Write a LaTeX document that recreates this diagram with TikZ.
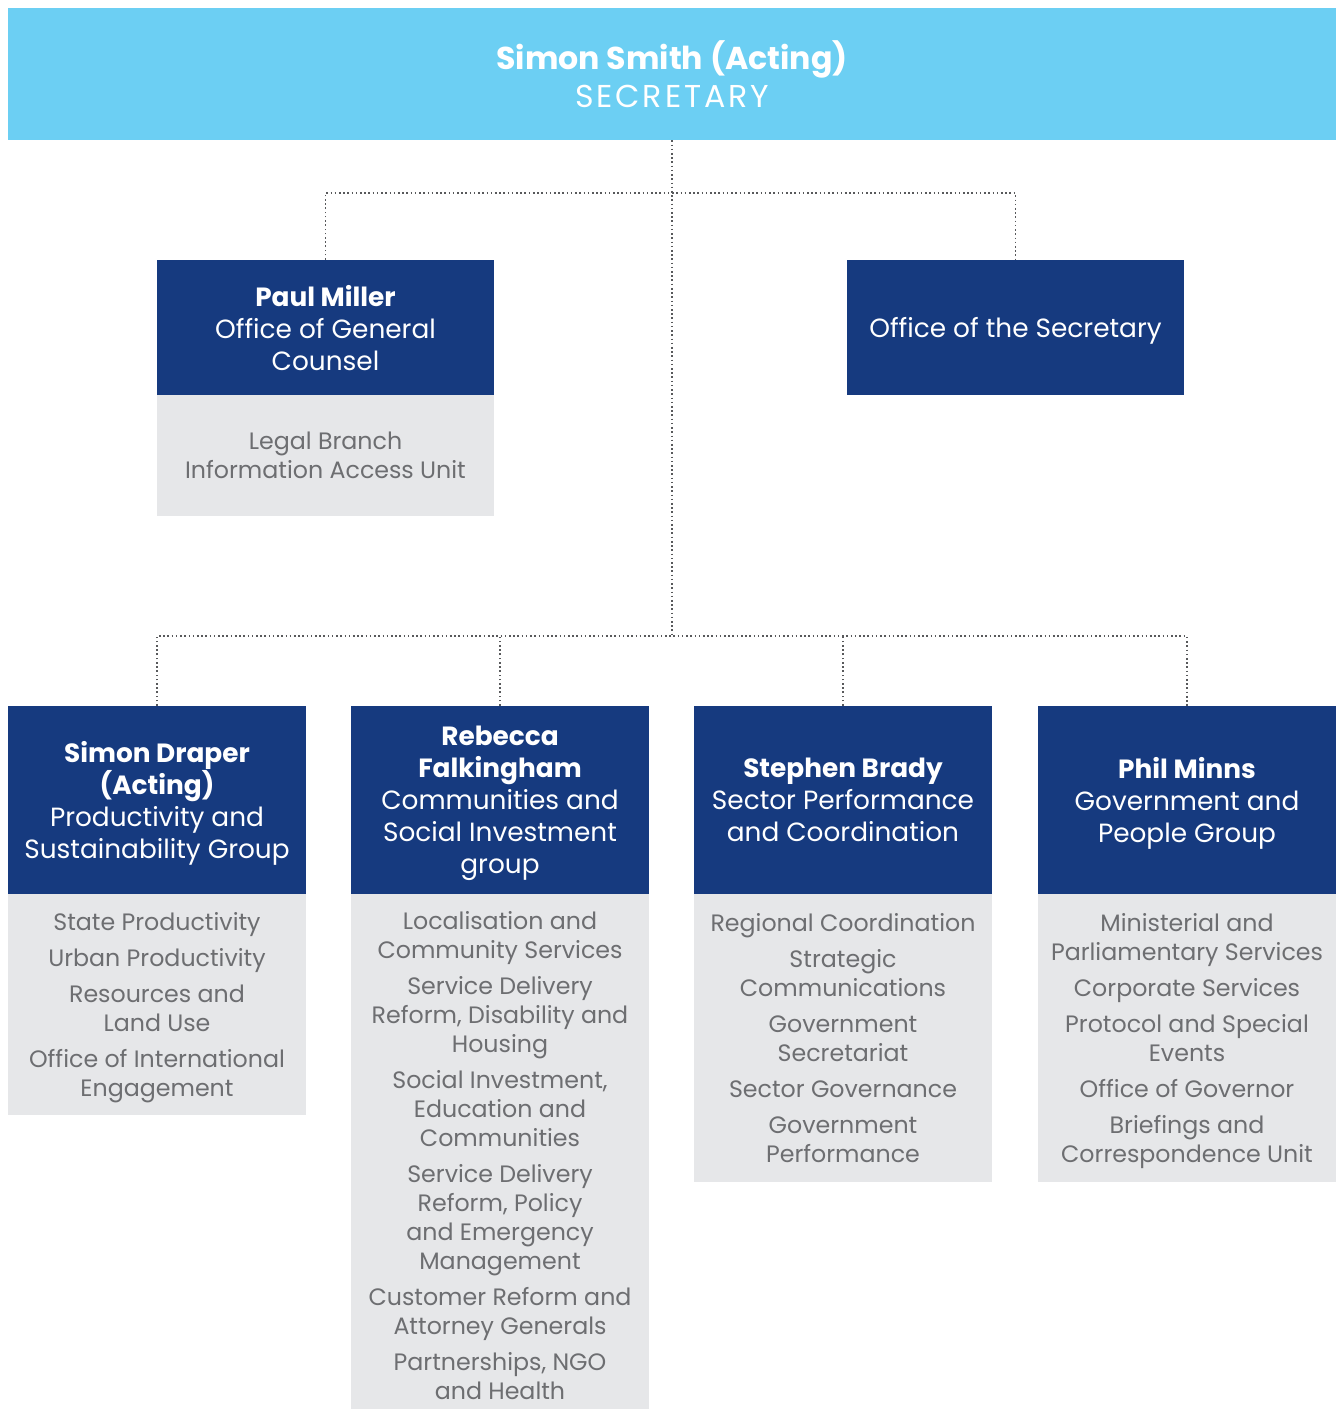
\documentclass[tikz,border=0pt]{standalone}
\usepackage{fontspec}
\setmainfont{Poppins}
\definecolor{skyblue}{HTML}{6CCFF3}
\definecolor{navy}{HTML}{163A7F}
\definecolor{panelgrey}{HTML}{E6E7E9}
\definecolor{unittext}{HTML}{6D6E71}
\definecolor{linkgrey}{HTML}{58595B}
\newcommand{\gap}{\\[4pt]}
\begin{document}
\begin{tikzpicture}[
        x=0.02cm, y=-0.02cm,
        banner/.style={rectangle, fill=skyblue, text=white, minimum width=26.56cm, minimum height=2.64cm, inner sep=0pt, align=center, font=\fontsize{18}{21.6}\selectfont},
        head/.style={rectangle, fill=navy, text=white, minimum width=5.96cm, minimum height=3.76cm, inner sep=0pt, text depth=0pt, align=center, font=\fontsize{15}{18.2}\selectfont},
        units/.style={rectangle, fill=panelgrey, text=unittext, minimum width=5.96cm, inner sep=0pt, text depth=0pt, align=center, font=\fontsize{13.5}{16.5}\selectfont},
        link/.style={linkgrey, line width=1pt, dash pattern=on 0.9pt off 1.5pt}
    ]
    \useasboundingbox (0,0) rectangle (1337,1409);

    % Secretary
    \node[banner] (sec) at (672,74) {\textbf{Simon Smith (Acting)}\\{\addfontfeature{LetterSpace=9}SECRETARY}};

    % Offices under the Secretary
    \node[head, minimum width=6.74cm, minimum height=2.7cm] (gc_head) at (325.5,327.5) {\textbf{Paul Miller}\\Office of General\\Counsel};
    \node[units, minimum width=6.74cm, minimum height=2.42cm] (gc_units) at (325.5,455.5) {Legal Branch\\Information Access Unit};
    \node[head, minimum width=6.74cm, minimum height=2.7cm] (os_head) at (1015.5,327.5) {Office of the Secretary};

    % Groups
    \node[head] (psg_head) at (157,800) {\textbf{Simon Draper}\\\textbf{(Acting)}\\Productivity and\\Sustainability Group};
    \node[head] (csi_head) at (500,800) {\textbf{Rebecca}\\\textbf{Falkingham}\\Communities and\\Social Investment\\group};
    \node[head] (spc_head) at (843,800) {\textbf{Stephen Brady}\\Sector Performance\\and Coordination};
    \node[head] (gpg_head) at (1187,800) {\textbf{Phil Minns}\\Government and\\People Group};

    % Branches of each group (csi runs past the page foot)
    \node[units, minimum height=4.42cm] (psg_units) at (157,1004.5) {State Productivity\gap Urban Productivity\gap Resources and\\Land Use\gap Office of International\\Engagement};
    \node[units, minimum height=10.46cm] (csi_units) at (500,1155.5) {Localisation and\\Community Services\gap Service Delivery\\Reform, Disability and\\Housing\gap Social Investment,\\Education and\\Communities\gap Service Delivery\\Reform, Policy\\and Emergency\\Management\gap Customer Reform and\\Attorney Generals\gap Partnerships, NGO\\and Health};
    \node[units, minimum height=5.76cm] (spc_units) at (843,1038) {Regional Coordination\gap Strategic\\Communications\gap Government\\Secretariat\gap Sector Governance\gap Government\\Performance};
    \node[units, minimum height=5.76cm] (gpg_units) at (1187,1038) {Ministerial and\\Parliamentary Services\gap Corporate Services\gap Protocol and Special\\Events\gap Office of Governor\gap Briefings and\\Correspondence Unit};

    % Bus lines
    \coordinate (top_bus) at (672,193);
    \coordinate (low_bus) at (672,636);

    % Links - offices
    \draw[link] (sec) -- (low_bus);
    \draw[link] (gc_head) |- (top_bus) -| (os_head);

    % Links - groups
    \draw[link] (psg_head) |- (low_bus) -| (gpg_head);
    \draw[link] (csi_head) -- (csi_head.north |- low_bus);
    \draw[link] (spc_head) -- (spc_head.north |- low_bus);

\end{tikzpicture}
\end{document}
